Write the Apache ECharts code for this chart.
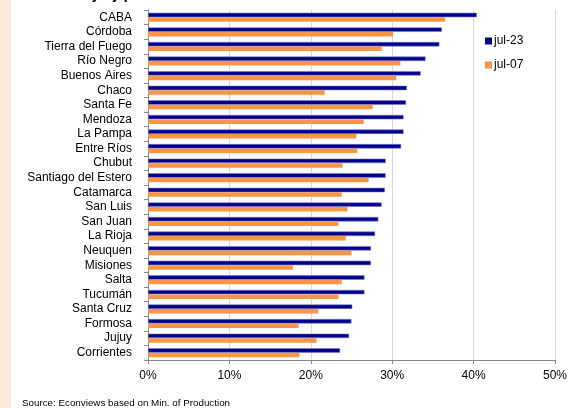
<!DOCTYPE html>
<html>
<head>
<meta charset="utf-8">
<script src="https://cdn.jsdelivr.net/npm/echarts@6/dist/echarts.min.js"></script>
<style>
  html, body { margin: 0; padding: 0; background: #ffffff; }
  #chart { width: 572px; height: 408px; }
</style>
</head>
<body>
<div id="chart"></div>
<script>
// Provinces, top to bottom
const provinces = [
  'CABA', 'Córdoba', 'Tierra del Fuego', 'Río Negro', 'Buenos Aires', 'Chaco',
  'Santa Fe', 'Mendoza', 'La Pampa', 'Entre Ríos', 'Chubut', 'Santiago del Estero',
  'Catamarca', 'San Luis', 'San Juan', 'La Rioja', 'Neuquen', 'Misiones',
  'Salta', 'Tucumán', 'Santa Cruz', 'Formosa', 'Jujuy', 'Corrientes'
];

// Share (%) in July 2023
const jul23 = [
  40.4, 36.1, 35.8, 34.1, 33.5, 31.8,
  31.7, 31.4, 31.4, 31.1, 29.2, 29.2,
  29.1, 28.7, 28.3, 27.9, 27.4, 27.4,
  26.6, 26.6, 25.1, 25.0, 24.7, 23.6
];

// Share (%) in July 2007
const jul07 = [
  36.5, 30.1, 28.7, 31.0, 30.5, 21.7,
  27.6, 26.5, 25.6, 25.7, 23.9, 27.1,
  23.8, 24.5, 23.4, 24.3, 25.0, 17.8,
  23.8, 23.4, 20.9, 18.5, 20.7, 18.6
];

const seriesNames = ['jul-23', 'jul-07'];
const xTicks = { min: 0, max: 50, step: 10 };

const FONT = 'Liberation Sans';
const chart = echarts.init(document.getElementById('chart'), null, { renderer: 'canvas' });

chart.setOption({
  animation: false,
  backgroundColor: '#ffffff',
  textStyle: { fontFamily: FONT },
  graphic: [
    { type: 'rect', left: 0, top: 0, shape: { width: 11, height: 408 }, style: { fill: '#fdeadc' }, silent: true },
    { type: 'text', left: 28, top: -12, style: { text: 'Informality by province', font: 'bold 14px ' + FONT, fill: '#000' } },
    { type: 'text', left: 22, top: 398, style: { text: 'Source: Econviews based on Min. of Production', font: '9.8px ' + FONT, fill: '#000' } }
  ],
  grid: { left: 148, right: 17, top: 10, bottom: 48, containLabel: false },
  legend: {
    orient: 'vertical',
    left: 480, top: 30,
    itemWidth: 7, itemHeight: 7, itemGap: 12,
    icon: 'rect',
    itemStyle: { borderWidth: 0 },
    textStyle: { fontFamily: FONT, fontSize: 12, color: '#000', padding: [0, 0, 0, -3] },
    data: seriesNames
  },
  xAxis: {
    type: 'value',
    min: xTicks.min, max: xTicks.max, interval: xTicks.step,
    axisLine: { show: true, lineStyle: { color: '#888888', width: 1 } },
    axisTick: { show: true, length: 4, lineStyle: { color: '#888888' } },
    axisLabel: { formatter: '{value}%', color: '#000', fontSize: 12, fontFamily: FONT, margin: 10 },
    splitLine: { show: true, lineStyle: { color: '#d9d9d9', width: 1 } }
  },
  yAxis: {
    type: 'category',
    inverse: true,
    data: provinces,
    axisLine: { show: true, lineStyle: { color: '#888888', width: 1 } },
    axisTick: { show: true, length: 4, lineStyle: { color: '#888888' } },
    axisLabel: { color: '#000', fontSize: 12, fontFamily: FONT, margin: 16, interval: 0 },
    splitLine: { show: false }
  },
  series: [
    {
      name: seriesNames[0], type: 'bar', data: jul23,
      barWidth: 4.5, barGap: '0%',
      itemStyle: { color: '#00008f', borderColor: '#7d7dc4', borderWidth: 0.6 }
    },
    {
      name: seriesNames[1], type: 'bar', data: jul07,
      barWidth: 4.5, barGap: '0%',
      itemStyle: { color: '#f79646' }
    }
  ]
});
</script>
</body>
</html>
